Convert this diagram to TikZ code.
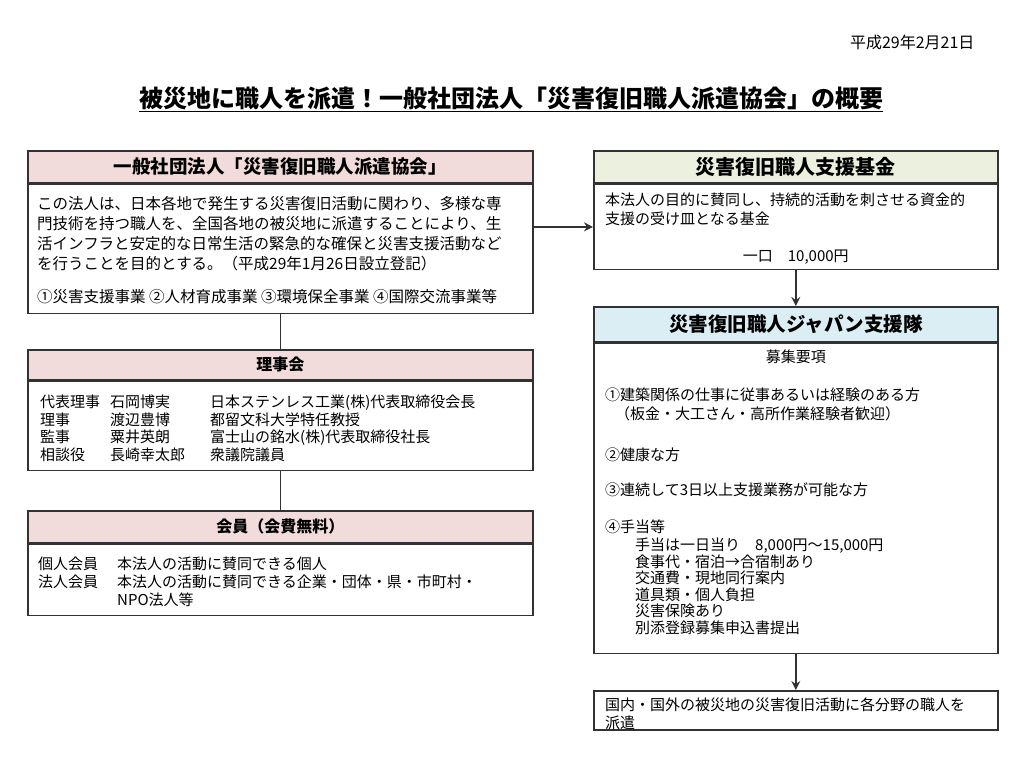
\documentclass[tikz,border=0pt]{standalone}
\usepackage{fontspec}
\setmainfont{Noto Sans CJK JP}
\usepackage{tikz}
\usetikzlibrary{arrows.meta,positioning}

\definecolor{hdrpink}{RGB}{242,220,219}
\definecolor{hdrgreen}{RGB}{235,241,222}
\definecolor{hdrblue}{RGB}{218,238,243}
\definecolor{framegray}{RGB}{50,50,50}

\tikzset{
  hdr/.style={draw=framegray, line width=1.6pt, anchor=north west, inner sep=0pt, font=\bfseries\fontsize{18.5}{20}\selectfont},
  bodybox/.style={draw=framegray, line width=1.6pt, anchor=north west, inner sep=0pt},
  bodytext/.style={anchor=north west, inner sep=0pt, align=left, font=\fontsize{15}{19.5}\selectfont},
  link/.style={draw=framegray, line width=1.6pt},
  arr/.style={link, -{Stealth[length=9pt,width=9pt,inset=3pt]}}
}

\begin{document}
\begin{tikzpicture}[x=1pt,y=-1pt]
\path[use as bounding box, fill=white] (0,0) rectangle (1024,768);

% date and title
\node[anchor=east, font=\fontsize{16}{18}\selectfont] (dateLbl) at (978,42) {平成29年2月21日};
\node[font=\bfseries\fontsize{24}{28}\selectfont] (titleLbl) at (511,99) {\underline{被災地に職人を派遣！一般社団法人「災害復旧職人派遣協会」の概要}};

% left column
\node[hdr, fill=hdrpink, minimum width=505, minimum height=32] (kyokaiH) at (27,150) {一般社団法人「災害復旧職人派遣協会」};
\node[bodybox, minimum width=505, minimum height=129] (kyokaiB) at (kyokaiH.south west) {};
\node[bodytext, font=\fontsize{15.5}{20}\selectfont, below right=12.5pt and 10pt of kyokaiB.north west] (kyokaiT) {この法人は、日本各地で発生する災害復旧活動に関わり、多様な専\\門技術を持つ職人を、全国各地の被災地に派遣することにより、生\\活インフラと安定的な日常生活の緊急的な確保と災害支援活動など\\を行うことを目的とする。（平成29年1月26日設立登記）\\[13pt]①災害支援事業 ②人材育成事業 ③環境保全事業 ④国際交流事業等};

\node[hdr, fill=hdrpink, minimum width=505, minimum height=30, font=\bfseries\fontsize{16}{18}\selectfont] (rijiH) at (27,349) {理事会};
\node[bodybox, minimum width=505, minimum height=89] (rijiB) at (rijiH.south west) {};
\node[bodytext, font=\fontsize{15}{17}\selectfont, below right=14pt and 13pt of rijiB.north west] (rijiT) {\begin{tabular}{@{}p{70pt}@{}p{100pt}@{}l@{}}
代表理事 & 石岡博実 & 日本ステンレス工業(株)代表取締役会長\\
理事 & 渡辺豊博 & 都留文科大学特任教授\\
監事 & 粟井英朗 & 富士山の銘水(株)代表取締役社長\\
相談役 & 長崎幸太郎 & 衆議院議員
\end{tabular}};

\node[hdr, fill=hdrpink, minimum width=505, minimum height=32, font=\bfseries\fontsize{16}{18}\selectfont] (kaiinH) at (27,510) {会員（会費無料）};
\node[bodybox, minimum width=505, minimum height=71] (kaiinB) at (kaiinH.south west) {};
\node[bodytext, font=\fontsize{15}{17.5}\selectfont, below right=13pt and 11pt of kaiinB.north west] (kaiinT) {\begin{tabular}{@{}p{79pt}@{}l@{}}
個人会員 & 本法人の活動に賛同できる個人\\
法人会員 & 本法人の活動に賛同できる企業・団体・県・市町村・\\
 & NPO法人等
\end{tabular}};

% right column
\node[hdr, fill=hdrgreen, minimum width=404, minimum height=32, font=\bfseries\fontsize{20}{22}\selectfont] (kikinH) at (593,150) {災害復旧職人支援基金};
\node[bodybox, minimum width=404, minimum height=85] (kikinB) at (kikinH.south west) {};
\node[bodytext, below right=9pt and 12pt of kikinB.north west] (kikinT) {本法人の目的に賛同し、持続的活動を刺させる資金的\\支援の受け皿となる基金};
\node[bodytext, above=6pt of kikinB.south] (kikinFee) {一口　10,000円};

\node[hdr, fill=hdrblue, minimum width=404, minimum height=35, font=\bfseries\fontsize{19.5}{22}\selectfont] (teamH) at (593,306) {災害復旧職人ジャパン支援隊};
\node[bodybox, minimum width=404, minimum height=310] (teamB) at (teamH.south west) {};
\node[bodytext, below=7pt of teamB.north] (teamSub) {募集要項};
\node[bodytext, font=\fontsize{15}{16.5}\selectfont, below right=45pt and 12pt of teamB.north west] (teamT) {①建築関係の仕事に従事あるいは経験のある方\\[2.5pt]
\hspace*{10pt}（板金・大工さん・高所作業経験者歓迎）\\[24.5pt]
②健康な方\\[18.5pt]
③連続して3日以上支援業務が可能な方\\[20.5pt]
④手当等\\[2pt]
\hspace*{30pt}手当は一日当り　8,000円～15,000円\\
\hspace*{30pt}食事代・宿泊→合宿制あり\\
\hspace*{30pt}交通費・現地同行案内\\
\hspace*{30pt}道具類・個人負担\\
\hspace*{30pt}災害保険あり\\
\hspace*{30pt}別添登録募集申込書提出};

\node[bodybox, minimum width=404, minimum height=39] (hakenB) at (593,690) {};
\node[bodytext, font=\fontsize{15}{17.5}\selectfont, below right=8pt and 12pt of hakenB.north west] (hakenT) {国内・国外の被災地の災害復旧活動に各分野の職人を\\派遣};

% connectors
\draw[link] (kyokaiB) -- (rijiH);
\draw[link] (rijiB) -- (kaiinH);
\draw[arr] (kyokaiB.east |- kikinB.west) -- (kikinB.west);
\draw[arr] (kikinB) -- (teamH);
\draw[arr] (teamB) -- (hakenB);
\end{tikzpicture}
\end{document}
